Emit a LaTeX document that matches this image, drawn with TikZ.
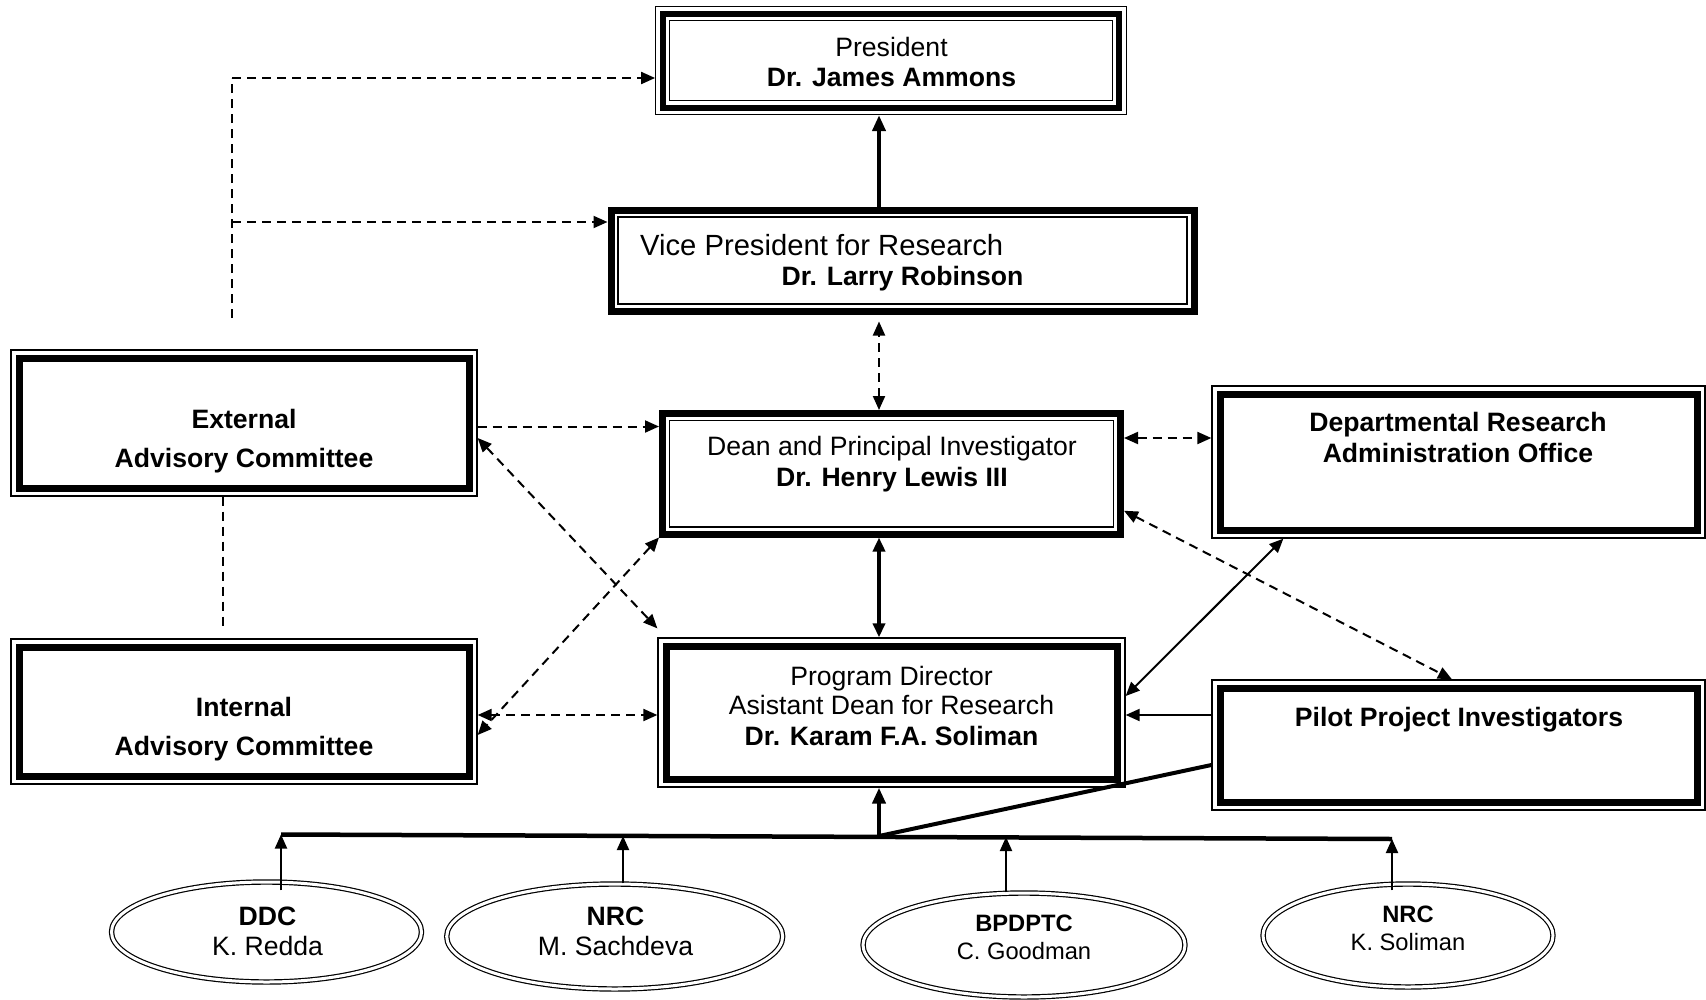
\documentclass[tikz,border=0pt]{standalone}
\usepackage{fontspec}
\setmainfont{Liberation Sans}
\usepackage{tikz}
\usetikzlibrary{arrows.meta, shapes.geometric, positioning}

\newcommand{\fbase}{\fontsize{26.6}{30}\selectfont}
\newcommand{\fbig}{\fontsize{29.2}{32}\selectfont}
\newcommand{\fsmall}{\fontsize{23.7}{27}\selectfont}

\tikzset{
  box/.style={rectangle, draw, inner sep=0pt},
  thinthick/.style={box, line width=1.3pt,
    path picture={\draw[line width=7pt]
      ([shift={(8pt,-8pt)}]path picture bounding box.north west) rectangle
      ([shift={(-8pt,8pt)}]path picture bounding box.south east);}},
  thickthin/.style={box, line width=7pt,
    path picture={\draw[line width=1.4pt]
      ([shift={(7pt,-7pt)}]path picture bounding box.north west) rectangle
      ([shift={(-7pt,7pt)}]path picture bounding box.south east);}},
  triple/.style={box, line width=1.3pt,
    path picture={\draw[line width=6pt]
      ([shift={(7pt,-7pt)}]path picture bounding box.north west) rectangle
      ([shift={(-7pt,7pt)}]path picture bounding box.south east);
      \draw[line width=1.3pt]
      ([shift={(14pt,-14pt)}]path picture bounding box.north west) rectangle
      ([shift={(-14pt,14pt)}]path picture bounding box.south east);}},
  unit/.style={ellipse, draw, double, double distance=3pt, line width=1.2pt, inner sep=0pt},
  txt/.style={inner sep=0pt, anchor=base, font=\fbase},
  txtb/.style={txt, font=\fbase\bfseries},
  dsh/.style={line width=2pt, dash pattern=on 9pt off 6pt},
  link/.style={line width=2pt},
  heavy/.style={line width=4pt, >={Triangle[length=16pt,width=13pt]}}
}

\begin{document}
\begin{tikzpicture}[>={Triangle[length=14pt,width=12pt]}, x=1pt, y=-1pt]
  \path[fill=white] (0,0) rectangle (1706,999);
  \useasboundingbox (0,0) rectangle (1706,999);

  % boxes
  \node[triple, minimum width=470.5pt, minimum height=108pt] (pres) at (891,60.5) {};
  \node[thickthin, minimum width=583pt, minimum height=101pt] (vp) at (902.5,260.5) {};
  \node[thinthick, minimum width=466pt, minimum height=146pt] (eac) at (244,423) {};
  \node[thinthick, minimum width=466pt, minimum height=145pt] (iac) at (244,711.5) {};
  \node[thickthin, minimum width=458pt, minimum height=120.5pt] (dean) at (891.5,473.75) {};
  \node[thinthick, minimum width=493pt, minimum height=152pt] (drao) at (1458.5,462) {};
  \node[thinthick, minimum width=467pt, minimum height=149pt] (pd) at (891.5,712.5) {};
  \node[thinthick, minimum width=493pt, minimum height=130pt] (pilot) at (1458.5,745) {};

  % centers
  \node[unit, minimum width=310pt, minimum height=100pt] (ddc) at (266.5,932) {};
  \node[unit, minimum width=336pt, minimum height=105pt] (nrcm) at (614.7,936.5) {};
  \node[unit, minimum width=322pt, minimum height=104pt] (bpd) at (1024,945) {};
  \node[unit, minimum width=290pt, minimum height=103pt] (nrck) at (1408,935.5) {};

  % texts
  \node[txt] (pres1) at (891.5,56.5) {President};
  \node[txtb] (pres2) at (891.5,86.5) {Dr. James Ammons};
  \node[txt, anchor=base west, font=\fbig] (vp1) at (640,255.5) {Vice President for Research};
  \node[txtb] (vp2) at (902.5,285.5) {Dr. Larry Robinson};
  \node[txtb] (eac1) at (244,428.5) {External};
  \node[txtb] (eac2) at (244,467.5) {Advisory Committee};
  \node[txtb] (iac1) at (244,716.5) {Internal};
  \node[txtb] (iac2) at (244,755.5) {Advisory Committee};
  \node[txt] (dean1) at (892,455.5) {Dean and Principal Investigator};
  \node[txtb] (dean2) at (892,486) {Dr. Henry Lewis III};
  \node[txtb] (drao1) at (1458,431.5) {Departmental Research};
  \node[txtb] (drao2) at (1458,462) {Administration Office};
  \node[txt] (pd1) at (891.5,685) {Program Director};
  \node[txt] (pd2) at (891.5,714.5) {Asistant Dean for Research};
  \node[txtb] (pd3) at (891.5,745) {Dr. Karam F.A. Soliman};
  \node[txtb] (pilot1) at (1459,726.5) {Pilot Project Investigators};
  \node[txtb] (ddc1) at (267.5,925.5) {DDC};
  \node[txt] (ddc2) at (267.5,955) {K. Redda};
  \node[txtb] (nrcm1) at (615.5,925.5) {NRC};
  \node[txt] (nrcm2) at (615.5,955) {M. Sachdeva};
  \node[txtb, font=\fsmall\bfseries] (bpd1) at (1024,931) {BPDPTC};
  \node[txt, font=\fsmall] (bpd2) at (1024,959.5) {C. Goodman};
  \node[txtb, font=\fsmall\bfseries] (nrck1) at (1408,922.5) {NRC};
  \node[txt, font=\fsmall] (nrck2) at (1408,950.5) {K. Soliman};

  % bus
  \coordinate (busL) at (281,834.5);
  \coordinate (busR) at (1392,839);
  \coordinate (busJ) at (879,836);
  \coordinate (b2) at (623,836);
  \coordinate (b3) at (1006,837);
  \draw[line width=4.5pt] (busL) -- (busR);
  \draw[heavy] (busJ) -- ([yshift=-20pt]pilot.west);
  \draw[heavy, ->] (busJ) -- (busJ |- pd.south);
  \draw[link, ->] ([yshift=-9pt]busL |- ddc.north) -- (busL);
  \draw[link, ->] (b2 |- nrcm.north) -- (b2);
  \draw[link, ->] (b3 |- bpd.north) -- (b3);
  \draw[link, ->] ([yshift=-7pt]busR |- nrck.north) -- (busR);

  % spine
  \draw[heavy, ->] (busJ |- vp.north) -- (busJ |- pres.south);
  \draw[dsh, <->] (busJ |- dean.north) -- ([yshift=-7pt]busJ |- vp.south);
  \draw[line width=3.5pt, <->] (busJ |- pd.north) -- (busJ |- dean.south);

  % advisory links
  \coordinate (lt) at (232,78);
  \coordinate (lm) at (232,222);
  \coordinate (lb) at (232,318);
  \draw[dsh] (lb) -- (lt);
  \draw[dsh, ->] (lt) -- (lt -| pres.west);
  \draw[dsh, ->] (lm) -- (lm -| vp.west);
  \draw[dsh, ->] ([yshift=-3.5pt]eac.east) coordinate (e1) -- (e1 -| dean.west);
  \draw[dsh, <->] ([yshift=-15pt]eac.east) -- ([yshift=9pt]pd.north west);
  \draw[dsh, <->] (dean.south west) -- ([yshift=-23.5pt]iac.east);
  \draw[dsh, <->] ([yshift=-3.5pt]iac.east) coordinate (i1) -- (i1 -| pd.west);
  \draw[dsh] ([xshift=-21pt]eac.south) -- ([xshift=-21pt,yshift=12pt]iac.north);

  % right side
  \draw[dsh, <->] ([yshift=35.75pt]dean.east) coordinate (d1) -- (d1 -| drao.west);
  \draw[dsh, <->] ([yshift=-37pt]dean.east) -- ([xshift=-6.5pt]pilot.north);
  \draw[link, <->] ([xshift=72pt]drao.south west) -- ([yshift=16.5pt]pd.east);
  \draw[link, ->] ([yshift=-2.5pt]pd.east) coordinate (p1) ++(0,0) (p1 -| pilot.west) -- (p1);
\end{tikzpicture}
\end{document}
